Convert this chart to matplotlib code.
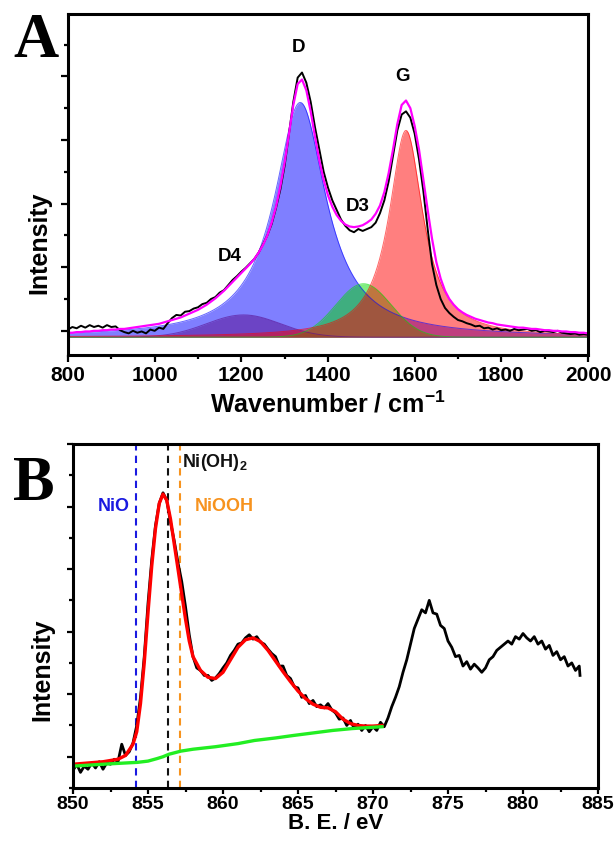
import numpy as np
import matplotlib
matplotlib.use("Agg")
import matplotlib.pyplot as plt
from matplotlib.ticker import MultipleLocator

plt.rcParams['font.family'] = ['Liberation Sans', 'DejaVu Sans']
plt.rcParams['font.weight'] = 'bold'
plt.rcParams['mathtext.fontset'] = 'custom'
plt.rcParams['mathtext.rm'] = 'Liberation Sans:bold'
plt.rcParams['mathtext.it'] = 'Liberation Sans:bold'
plt.rcParams['mathtext.bf'] = 'Liberation Sans:bold'

# ---------------- Panel A : Raman ----------------
raman_x = list(range(800, 2001, 10))
raman_exp = [0.02, 0.06, 0.04, 0.08, 0.05, 0.09, 0.06, 0.08, 0.05, 0.09,
             0.06, 0.07, 0.01, -0.02, -0.04, 0.0, -0.03, -0.01, -0.04, 0.02,
             0.0, 0.05, 0.03, 0.12, 0.2, 0.25, 0.24, 0.3, 0.31, 0.35,
             0.37, 0.42, 0.44, 0.5, 0.53, 0.6, 0.64, 0.72, 0.8, 0.86,
             0.93, 0.99, 1.06, 1.13, 1.23, 1.36, 1.5, 1.68, 1.93, 2.22,
             2.6, 3.1, 3.6, 3.98, 4.06, 3.9, 3.6, 3.2, 2.85, 2.5,
             2.25, 2.05, 1.9, 1.75, 1.65, 1.58, 1.55, 1.6, 1.57, 1.6,
             1.63, 1.7, 1.85, 2.05, 2.35, 2.75, 3.15, 3.4, 3.45, 3.35,
             3.1, 2.7, 2.2, 1.6, 1.05, 0.72, 0.5, 0.36, 0.28, 0.22,
             0.17, 0.15, 0.12, 0.1, 0.07, 0.08, 0.04, 0.05, 0.02, 0.04,
             0.01, 0.02, 0.0, 0.03, 0.01, 0.02, 0.03, 0.0, 0.01, -0.02,
             0.0, -0.01, -0.02, 0.0, -0.03, -0.04, -0.05, -0.04, -0.06, -0.05,
             -0.06]
raman_fit = [-0.03, -0.03, -0.02, -0.02, -0.01, -0.01, 0.0, 0.0, 0.01, 0.01,
             0.02, 0.02, 0.03, 0.03, 0.04, 0.05, 0.06, 0.07, 0.08, 0.09,
             0.1, 0.11, 0.13, 0.15, 0.17, 0.19, 0.21, 0.24, 0.27, 0.3,
             0.33, 0.37, 0.41, 0.46, 0.51, 0.57, 0.63, 0.7, 0.77, 0.84,
             0.91, 0.98, 1.05, 1.13, 1.23, 1.35, 1.5, 1.7, 1.95, 2.27,
             2.65, 3.1, 3.55, 3.88, 3.95, 3.78, 3.45, 3.05, 2.68, 2.37,
             2.13, 1.95, 1.82, 1.73, 1.67, 1.64, 1.63, 1.64, 1.66, 1.7,
             1.75, 1.84, 1.97, 2.18, 2.48, 2.85, 3.25, 3.55, 3.62, 3.5,
             3.22, 2.85, 2.38, 1.9, 1.45, 1.08, 0.82, 0.63, 0.5, 0.41,
             0.34, 0.29, 0.25, 0.22, 0.19, 0.17, 0.15, 0.13, 0.12, 0.1,
             0.09, 0.08, 0.07, 0.06, 0.05, 0.05, 0.04, 0.03, 0.03, 0.02,
             0.01, 0.01, 0.0, 0.0, -0.01, -0.01, -0.02, -0.02, -0.03, -0.03,
             -0.04]

# fitted components: name, centre, height, FWHM, shape
comp_names = ['D', 'D4', 'D3', 'G']
comp_centres = [1336, 1205, 1482, 1580]
comp_heights = [3.69, 0.35, 0.84, 3.25]
comp_fwhm = [145, 200, 150, 95]
comp_shapes = ['lorentz', 'gauss', 'gauss', 'lorentz']
comp_colors = ['#0000ff', '#5a0a8c', '#00dd00', '#ff0000']
comp_base = -0.1

peak_labels = ['D', 'G', 'D3', 'D4']
peak_label_x = [1333, 1573, 1469, 1173]
peak_label_y = [4.46, 4.0, 1.95, 1.17]

# ---------------- Panel B : XPS ----------------
xps_x = [850 + 0.25 * i for i in range(136)] + [883.8]
xps_exp = [-0.22, -0.12, -0.25, -0.15, -0.2, -0.1, -0.18, -0.08, -0.2, -0.1,
           -0.12, -0.04, -0.08, 0.2, 0.02, 0.08, 0.22, 0.5, 0.95, 1.6,
           2.45, 3.15, 3.7, 4.05, 4.22, 4.1, 3.75, 3.45, 3.1, 2.8,
           2.4, 1.95, 1.6, 1.42, 1.38, 1.3, 1.3, 1.22, 1.26, 1.33,
           1.42, 1.5, 1.62, 1.7, 1.8, 1.82, 1.9, 1.95, 1.88, 1.92,
           1.83, 1.8, 1.72, 1.65, 1.6, 1.45, 1.45, 1.3, 1.25, 1.12,
           1.1, 0.95, 0.98, 0.85, 0.9, 0.8, 0.83, 0.78, 0.85, 0.75,
           0.7, 0.6, 0.62, 0.5, 0.58, 0.45, 0.52, 0.42, 0.5, 0.4,
           0.48, 0.42, 0.55, 0.48, 0.62, 0.8, 0.95, 1.12, 1.35, 1.55,
           1.8, 2.05, 2.2, 2.35, 2.3, 2.5, 2.3, 2.28, 2.1, 2.05,
           1.85, 1.75, 1.6, 1.62, 1.45, 1.52, 1.4, 1.48, 1.42, 1.35,
           1.42, 1.55, 1.6, 1.7, 1.75, 1.8, 1.85, 1.8, 1.92, 1.88,
           1.97, 1.9, 1.85, 1.92, 1.8, 1.85, 1.72, 1.78, 1.62, 1.68,
           1.55, 1.6, 1.45, 1.5, 1.38, 1.45, 1.3]

fit_x = [850.0, 851.0, 852.0, 853.0, 853.5, 854.0, 854.25, 854.5, 854.75, 855.0,
         855.25, 855.5, 855.75, 856.0, 856.25, 856.5, 856.75, 857.0, 857.25, 857.5,
         857.75, 858.0, 858.5, 859.0, 859.5, 860.0, 860.5, 861.0, 861.5, 862.0,
         862.5, 863.0, 863.5, 864.0, 864.5, 865.0, 865.5, 866.0, 866.5, 867.0,
         867.5, 868.0, 868.5, 869.0, 869.5, 870.0, 870.6]
fit_y = [-0.12, -0.1, -0.08, -0.04, 0.02, 0.2, 0.4, 0.85, 1.5, 2.3,
         3.05, 3.65, 4.05, 4.2, 4.1, 3.8, 3.4, 3.0, 2.6, 2.2,
         1.85, 1.6, 1.38, 1.27, 1.25, 1.35, 1.55, 1.75, 1.87, 1.9,
         1.84, 1.7, 1.53, 1.36, 1.2, 1.05, 0.93, 0.84, 0.79, 0.78,
         0.72, 0.6, 0.53, 0.5, 0.49, 0.49, 0.5]

bg_x = [850.0, 852.0, 853.5, 854.3, 855.0, 855.6, 856.0, 856.4, 857.2, 858.0,
        859.5, 861.0, 862.1, 863.5, 864.7, 866.0, 867.3, 868.6, 870.6]
bg_y = [-0.15, -0.12, -0.1, -0.09, -0.07, -0.03, 0.0, 0.04, 0.09, 0.12,
        0.16, 0.21, 0.26, 0.3, 0.34, 0.38, 0.42, 0.45, 0.48]

ref_names = ['NiO', 'Ni(OH)$_2$', 'NiOOH']
ref_pos = [854.2, 856.3, 857.1]
ref_colors = ['#1a1ae0', '#111111', '#f7931e']
ref_text_x = [852.7, 857.25, 858.1]
ref_text_y = [4.0, 4.7, 4.0]
ref_text_ha = ['center', 'left', 'left']

# ---------------- figure ----------------
fig = plt.figure(figsize=(6.14, 8.43), dpi=100)
axA = fig.add_axes([68/614, 1-355/843, 520/614, 341/843])
axB = fig.add_axes([73/614, 1-788/843, 525/614, 344/843])


def style(ax, lsize, tlen, tpad):
    for s in ax.spines.values():
        s.set_linewidth(2.2)
    ax.tick_params(which='both', direction='out', top=False, right=False,
                   width=1.6, labelsize=lsize, pad=tpad)
    ax.tick_params(which='major', length=tlen)
    ax.tick_params(which='minor', length=3)
    ax.set_yticklabels([])
    for t in ax.get_xticklabels():
        t.set_fontweight('bold')


# Panel A
xs = np.linspace(800, 2000, 1201)
for name, c, h, w, sh, col in zip(comp_names, comp_centres, comp_heights,
                                  comp_fwhm, comp_shapes, comp_colors):
    if sh == 'lorentz':
        prof = h / (1 + ((xs - c) / (w / 2)) ** 2)
    else:
        prof = h * np.exp(-4 * np.log(2) * ((xs - c) / w) ** 2)
    axA.fill_between(xs, comp_base, comp_base + prof, color=col, alpha=0.5,
                     linewidth=0)
    axA.plot(xs, comp_base + prof, color=col, lw=0.7, alpha=0.6)

axA.plot(raman_x, raman_exp, color='black', lw=1.4)
axA.plot(raman_x, raman_fit, color='#ff00ff', lw=1.6)
for t, x, y in zip(peak_labels, peak_label_x, peak_label_y):
    axA.text(x, y, t, ha='center', va='center', fontsize=13.5, fontweight='bold')

axA.set_xlim(800, 2000)
axA.set_ylim(-0.38, 4.98)
axA.xaxis.set_major_locator(MultipleLocator(200))
axA.xaxis.set_minor_locator(MultipleLocator(100))
axA.yaxis.set_major_locator(MultipleLocator(1))
axA.yaxis.set_minor_locator(MultipleLocator(0.5))
style(axA, 15, 5, 3)
axA.set_xlabel('Wavenumber / cm$^{-1}$', fontsize=18, fontweight='bold', labelpad=4)
axA.text(-0.056, 0.33, 'Intensity', rotation=90, ha='center', va='center',
         fontsize=18, fontweight='bold', transform=axA.transAxes)

# Panel B
for name, p, col in zip(ref_names, ref_pos, ref_colors):
    axB.axvline(p, color=col, lw=1.5, dashes=(3.5, 2.5))
axB.plot(xps_x, xps_exp, color='black', lw=2.0)
axB.plot(fit_x, fit_y, color='#ff0000', lw=2.4)
axB.plot(bg_x, bg_y, color='#22ee22', lw=2.4)
for name, x, y, col, ha in zip(ref_names, ref_text_x, ref_text_y, ref_colors, ref_text_ha):
    axB.text(x, y, name, color=col, ha=ha, va='center', fontsize=13,
             fontweight='bold')

axB.set_xlim(850, 885)
axB.set_ylim(-0.5, 5.0)
axB.xaxis.set_major_locator(MultipleLocator(5))
axB.xaxis.set_minor_locator(MultipleLocator(2.5))
axB.yaxis.set_major_locator(MultipleLocator(1))
axB.yaxis.set_minor_locator(MultipleLocator(0.5))
style(axB, 14, 4.5, 1.5)
axB.set_xlabel('B. E. / eV', fontsize=16, fontweight='bold', labelpad=0)
axB.text(-0.059, 0.344, 'Intensity', rotation=90, ha='center', va='center',
         fontsize=18, fontweight='bold', transform=axB.transAxes)

fig.text(13/614, 1-57/843, 'A', fontsize=45, fontweight='bold',
         family='Liberation Serif', va='baseline', ha='left')
fig.text(13/614, 1-500/843, 'B', fontsize=45, fontweight='bold',
         family='Liberation Serif', va='baseline', ha='left')

fig.savefig('out.png', dpi=100)
